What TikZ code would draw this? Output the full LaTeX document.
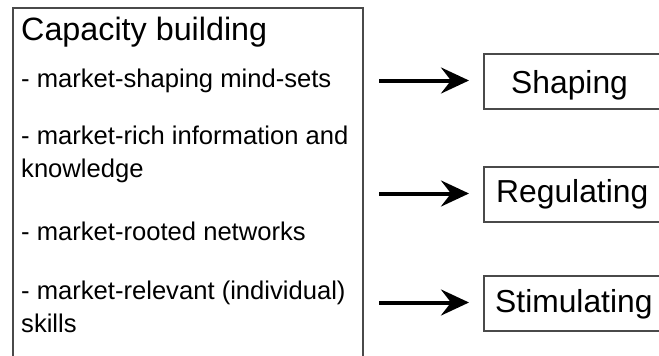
\documentclass[tikz,border=0pt]{standalone}
\usepackage{fontspec}
\setmainfont{Liberation Sans}
\usetikzlibrary{arrows.meta}
\definecolor{edge}{HTML}{4A4A4A}
\tikzset{
  frame/.style={draw=edge, line width=1.5pt, rectangle, inner sep=0pt, anchor=north west},
  outbox/.style={frame, minimum width=200pt, minimum height=55pt},
  title/.style={anchor=base west, inner sep=0pt, font=\fontsize{32.3}{32}\selectfont},
  % multi-line items are placed by the baseline of their last line
  item/.style={anchor=base west, inner sep=0pt, align=left, font=\fontsize{25.6}{33}\selectfont},
  label/.style={anchor=base west, inner sep=0pt, font=\fontsize{31.8}{32}\selectfont},
  flow/.style={line width=4pt, -{Stealth[length=28pt, width=26pt, inset=10pt]}, shorten >=14pt}
}
\begin{document}
\begin{tikzpicture}[x=1pt, y=-1pt]
  \useasboundingbox (0,0) rectangle (659,356);
  \clip (0,0) rectangle (659,356);
  \fill[white] (0,0) rectangle (659,356);

  % capacity building panel
  \node[frame, minimum width=350pt, minimum height=365pt] (cap) at (12,7) {};
  \node[title] (t) at (21,40) {Capacity building};
  \node[item] (i1) at (21,87) {- market-shaping mind-sets};
  \node[item] (i2) at (21,177) {- market-rich information and\\knowledge};
  \node[item] (i3) at (21,240) {- market-rooted networks};
  \node[item] (i4) at (21,332) {- market-relevant (individual)\\skills};

  % outcome boxes
  \node[outbox] (bs) at (483,53) {};
  \node[outbox] (br) at (483,166) {};
  \node[outbox] (bt) at (483,275) {};
  \node[label] (ls) at (511,93) {Shaping};
  \node[label] (lr) at (496,202) {Regulating};
  \node[label] (lt) at (495,312) {Stimulating};

  % arrows
  \coordinate (as) at (379,80.5);
  \coordinate (ar) at (379,193.5);
  \coordinate (at) at (379,302.5);
  \draw[flow] (as) -- (as -| bs.west);
  \draw[flow] (ar) -- (ar -| br.west);
  \draw[flow] (at) -- (at -| bt.west);
\end{tikzpicture}
\end{document}
